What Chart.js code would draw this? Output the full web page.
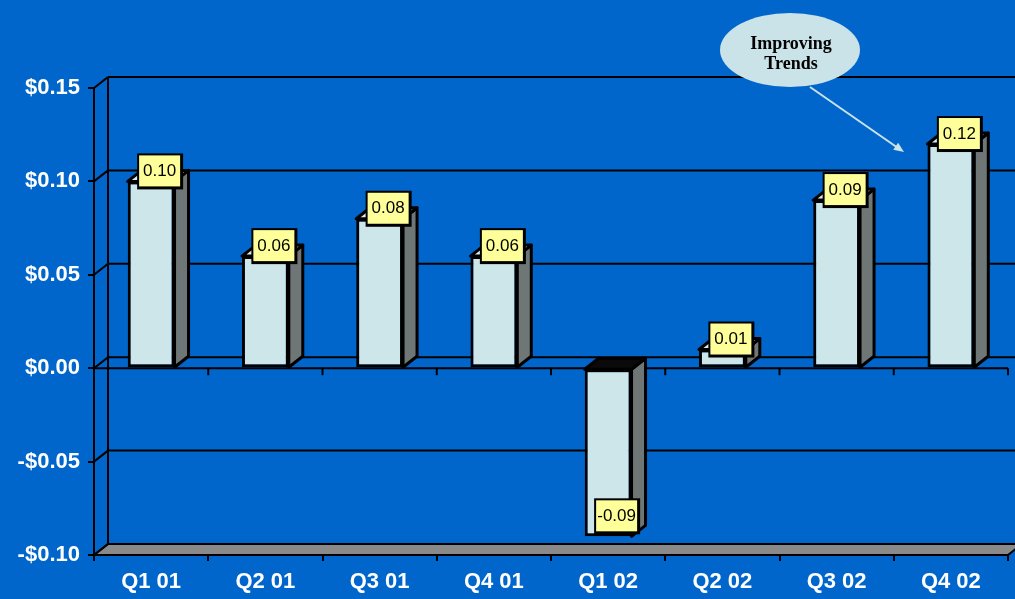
<!DOCTYPE html>
<html>
<head>
<meta charset="utf-8">
<script src="https://cdn.jsdelivr.net/npm/chart.js@4/dist/chart.umd.min.js"></script>
<style>
  html, body { margin: 0; padding: 0; background: #0066CC; }
  #wrap { width: 1015px; height: 599px; }
</style>
</head>
<body>
<div id="wrap"><canvas id="eps" width="1015" height="599"></canvas></div>
<script>
var quarters = ['Q1 01', 'Q2 01', 'Q3 01', 'Q4 01', 'Q1 02', 'Q2 02', 'Q3 02', 'Q4 02'];
var eps = [0.10, 0.06, 0.08, 0.06, -0.09, 0.01, 0.09, 0.12];
var yMin = -0.10, yMax = 0.15, yStep = 0.05;
var note = ['Improving', 'Trends'];

// depth of the 3d walls and bars
var dx = 14, dy = -11;

function line(ctx, x1, y1, x2, y2) {
	ctx.beginPath();
	ctx.moveTo(x1, y1);
	ctx.lineTo(x2, y2);
	ctx.stroke();
}
function poly(ctx, pts, fill) {
	ctx.beginPath();
	ctx.moveTo(pts[0][0], pts[0][1]);
	for (var i = 1; i < pts.length; i++) ctx.lineTo(pts[i][0], pts[i][1]);
	ctx.closePath();
	ctx.fillStyle = fill;
	ctx.fill();
	ctx.stroke();
}

var walls = {
	id: 'walls',
	beforeDatasetsDraw: function(chart) {
		var ctx = chart.ctx, a = chart.chartArea, y = chart.scales.y;
		var yb = y.getPixelForValue(yMin);
		ctx.save();
		ctx.strokeStyle = '#000';
		ctx.lineWidth = 2;

		// floor
		poly(ctx, [[a.left, yb], [a.right, yb], [a.right + dx, yb + dy], [a.left + dx, yb + dy]], '#8A8A8A');

		// back wall gridlines + the little diagonals on the side wall
		for (var v = yMin; v <= yMax + 1e-9; v += yStep) {
			var py = y.getPixelForValue(v);
			line(ctx, a.left, py, a.left + dx, py + dy);
			if (v > yMin + 1e-9) line(ctx, a.left + dx, py + dy, a.right + dx + 30, py + dy);
		}
		line(ctx, a.left + dx, a.top + dy, a.left + dx, yb + dy);

		// category axis at zero with its ticks
		var y0 = y.getPixelForValue(0);
		line(ctx, a.left, y0, a.right, y0);
		var step = (a.right - a.left) / quarters.length;
		for (var i = 1; i <= quarters.length; i++) {
			var px = a.left + i * step;
			line(ctx, px, y0, px, y0 + 7);
		}
		ctx.restore();
	},
	afterDatasetsDraw: function(chart) {
		var ctx = chart.ctx;
		var bars = chart.getDatasetMeta(0).data;
		ctx.save();
		ctx.strokeStyle = '#000';
		ctx.lineWidth = 3;
		ctx.lineJoin = 'round';
		bars.forEach(function(b, i) {
			var w = b.width, l = b.x - w / 2, r = b.x + w / 2;
			var top = Math.min(b.y, b.base), bot = Math.max(b.y, b.base);
			// side and top faces
			poly(ctx, [[r, top], [r + dx, top + dy], [r + dx, bot + dy], [r, bot]], '#6E7676');
			poly(ctx, [[l, top], [l + dx, top + dy], [r + dx, top + dy], [r, top]], eps[i] < 0 ? '#0A0A0A' : '#D6ECEE');
		});

		// value boxes
		ctx.font = '17px "Liberation Sans", Arial, sans-serif';
		ctx.textAlign = 'center';
		ctx.textBaseline = 'middle';
		bars.forEach(function(b, i) {
			var cx = b.x + 8;
			var cy = eps[i] < 0 ? b.y - 21 : b.y - 11;
			ctx.fillStyle = '#000';
			ctx.fillRect(cx - 22, cy - 17, 46, 36);
			ctx.fillStyle = '#FFFF99';
			ctx.fillRect(cx - 20, cy - 15, 41, 31);
			ctx.fillStyle = '#000';
			ctx.fillText(eps[i].toFixed(2), cx + 0.5, cy + 1);
		});
		ctx.restore();
	},
	afterDraw: function(chart) {
		var ctx = chart.ctx;
		ctx.save();
		// callout bubble
		ctx.fillStyle = '#C9E3E8';
		ctx.beginPath();
		ctx.ellipse(790, 50, 70, 37, 0, 0, Math.PI * 2);
		ctx.fill();
		ctx.fillStyle = '#000';
		ctx.font = 'bold 18px "Liberation Serif", "Times New Roman", serif';
		ctx.textAlign = 'center';
		ctx.textBaseline = 'middle';
		ctx.fillText(note[0], 791, 44);
		ctx.fillText(note[1], 791, 64);

		// arrow
		var x1 = 810, y1 = 87, x2 = 904, y2 = 152;
		ctx.strokeStyle = '#C9E3E8';
		ctx.fillStyle = '#C9E3E8';
		ctx.lineWidth = 2;
		line(ctx, x1, y1, x2 - 6, y2 - 4);
		var ang = Math.atan2(y2 - y1, x2 - x1);
		ctx.beginPath();
		ctx.moveTo(x2, y2);
		ctx.lineTo(x2 - 11 * Math.cos(ang - 0.4), y2 - 11 * Math.sin(ang - 0.4));
		ctx.lineTo(x2 - 11 * Math.cos(ang + 0.4), y2 - 11 * Math.sin(ang + 0.4));
		ctx.closePath();
		ctx.fill();
		ctx.restore();
	}
};

var tickFont = { family: '"Liberation Sans", Arial, sans-serif', size: 22, weight: 'bold' };

new Chart(document.getElementById('eps'), {
	type: 'bar',
	data: {
		labels: quarters,
		datasets: [{
			data: eps,
			backgroundColor: '#CDE6EA',
			borderColor: '#000',
			borderWidth: 3,
			borderSkipped: false,
			categoryPercentage: 1,
			barPercentage: 0.41
		}]
	},
	options: {
		responsive: false,
		animation: false,
		layout: { padding: { top: 88, right: 7, left: 0, bottom: 0 } },
		plugins: { legend: { display: false }, tooltip: { enabled: false } },
		scales: {
			x: {
				afterFit: function(s) { s.height = 44; },
				grid: { drawOnChartArea: false, color: '#000', tickLength: 6, lineWidth: 2 },
				border: { color: '#000', width: 2 },
				ticks: { color: '#fff', font: tickFont, padding: 8 }
			},
			y: {
				min: yMin,
				max: yMax,
				afterFit: function(s) { s.width = 94; },
				grid: { drawOnChartArea: false, color: '#000', tickLength: 6, lineWidth: 2 },
				border: { color: '#000', width: 2 },
				ticks: {
					stepSize: yStep,
					color: '#fff',
					font: tickFont,
					padding: 8,
					callback: function(v) {
						if (Math.abs(v) < 1e-9) return '$0.00';
						return (v < 0 ? '-$' : '$') + Math.abs(v).toFixed(2);
					}
				}
			}
		}
	},
	plugins: [walls]
});
</script>
</body>
</html>
